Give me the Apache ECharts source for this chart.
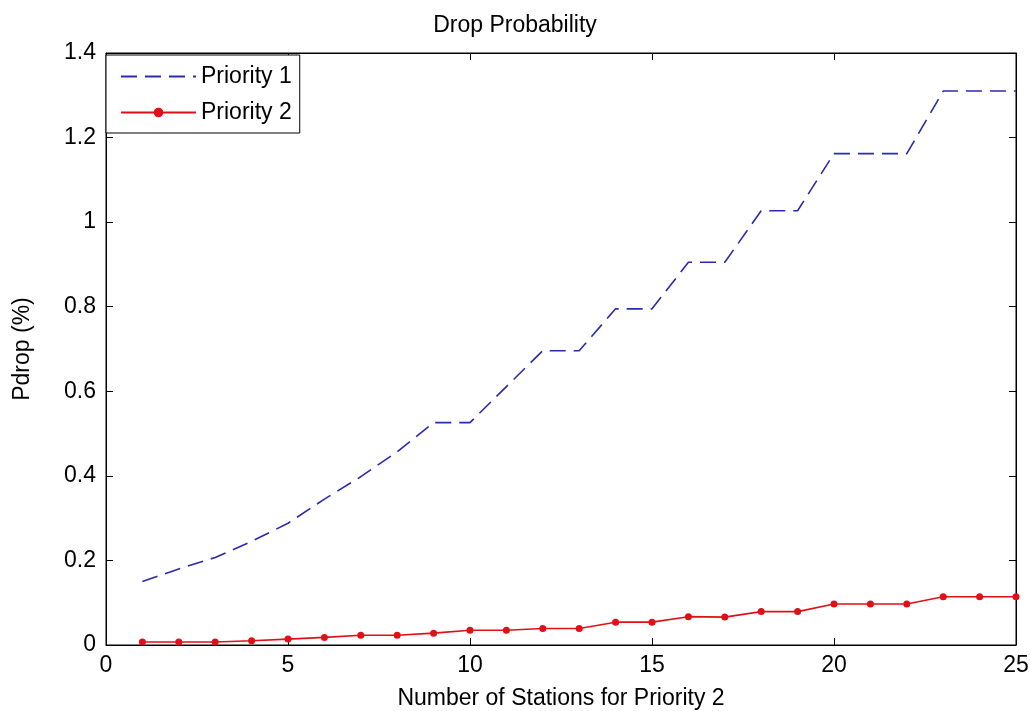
<!DOCTYPE html>
<html><head><meta charset="utf-8">
<script src="https://cdn.jsdelivr.net/npm/echarts@6/dist/echarts.min.js"></script>
<style>html,body{margin:0;padding:0;background:#fff}#c{width:1030px;height:711px}</style>
</head><body><div id="c"></div>
<script>
const stations = [1,2,3,4,5,6,7,8,9,10,11,12,13,14,15,16,17,18,19,20,21,22,23,24,25];
const priority1 = [0.150,0.180,0.207,0.245,0.288,0.345,0.398,0.457,0.526,0.526,0.611,0.696,0.696,0.795,0.795,0.905,0.905,1.027,1.027,1.162,1.162,1.162,1.310,1.310,1.310];
const priority2 = [0.007,0.007,0.007,0.010,0.014,0.018,0.023,0.023,0.028,0.035,0.035,0.039,0.039,0.054,0.054,0.067,0.066,0.079,0.079,0.097,0.097,0.097,0.114,0.114,0.114];
const xTicks = [0,5,10,15,20,25];
const yTicks = [0,0.2,0.4,0.6,0.8,1,1.2,1.4];

const font = 'Liberation Sans';
const FS = 23;
const chart = echarts.init(document.getElementById('c'));
const axLine = {show:true, onZero:false, lineStyle:{color:'#000', width:1}};
const tick = {inside:true, length:7, lineStyle:{color:'#000'}};
chart.setOption({
  backgroundColor:'#fff',
  animation:false,
  title:{text:'Drop Probability', left:'center', top:9, textStyle:{fontFamily:font, fontWeight:'normal', fontSize:FS, color:'#000'}},
  grid:{left:106, right:14, top:53, bottom:66, containLabel:false, outerBoundsMode:'none',
        show:true, borderColor:'#000', borderWidth:1, backgroundColor:'transparent'},
  legend:{
    left:106, top:55, orient:'vertical', itemWidth:75, itemHeight:12, itemGap:13,
    padding:[10,8,9,14], borderColor:'#000', borderWidth:1, backgroundColor:'#fff',
    textStyle:{fontFamily:font, fontSize:FS, color:'#000'},
    data:[{name:'Priority 1', itemStyle:{opacity:0}},{name:'Priority 2'}]
  },
  xAxis:[{
    type:'value', min:0, max:25, interval:5,
    name:'Number of Stations for Priority 2', nameLocation:'middle', nameGap:42,
    nameTextStyle:{fontFamily:font, fontSize:FS, color:'#000'},
    axisLine:axLine, axisTick:tick,
    axisLabel:{fontFamily:font, fontSize:FS, color:'#000', margin:9, formatter:v=>xTicks.includes(v)?String(v):''},
    splitLine:{show:false}
  },{
    type:'value', min:0, max:25, interval:5, position:'top',
    axisLine:axLine, axisTick:tick,
    axisLabel:{show:false}, splitLine:{show:false}
  }],
  yAxis:[{
    type:'value', min:0, max:1.4, interval:0.2,
    name:'Pdrop (%)', nameLocation:'middle', nameGap:72, nameRotate:90,
    nameTextStyle:{fontFamily:font, fontSize:FS, color:'#000'},
    axisLine:axLine, axisTick:tick,
    axisLabel:{fontFamily:font, fontSize:FS, color:'#000', margin:10,
      formatter:v=>{const t=yTicks.find(a=>Math.abs(a-v)<1e-9); return t===undefined?'':String(+t.toFixed(1));}},
    splitLine:{show:false}
  },{
    type:'value', min:0, max:1.4, interval:0.2, position:'right',
    axisLine:axLine, axisTick:tick,
    axisLabel:{show:false}, splitLine:{show:false}
  }],
  series:[{
    name:'Priority 1', type:'line', showSymbol:false, symbol:'none',
    data:stations.map((x,i)=>[x,priority1[i]]),
    lineStyle:{color:'#2a2ab0', width:1.6, type:[16,8]}, itemStyle:{color:'#2a2ab0'}
  },{
    name:'Priority 2', type:'line', symbol:'circle', symbolSize:7,
    data:stations.map((x,i)=>[x,priority2[i]]),
    lineStyle:{color:'#e01018', width:1.6}, itemStyle:{color:'#e01018'}
  }]
});
</script></body></html>
